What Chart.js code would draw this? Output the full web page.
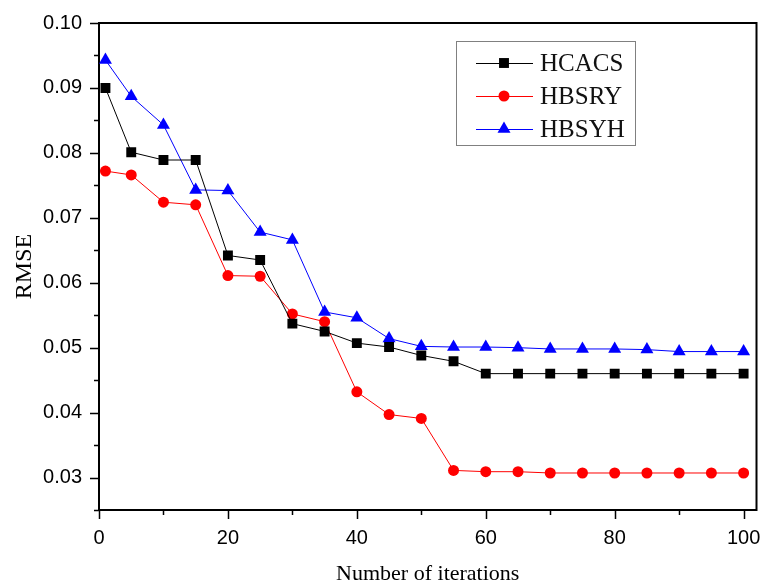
<!DOCTYPE html>
<html>
<head>
<meta charset="utf-8">
<title>RMSE vs number of iterations</title>
<script src="https://cdn.jsdelivr.net/npm/chart.js@4"></script>
<style>
    html, body { margin: 0; padding: 0; background: #fff; }
    #wrap { width: 764px; height: 585px; }
</style>
</head>
<body>
<div id="wrap"><canvas id="rmseChart" width="764" height="585"></canvas></div>
<script>
// values
const iterations = [1, 5, 10, 15, 20, 25, 30, 35, 40, 45, 50, 55, 60, 65, 70, 75, 80, 85, 90, 95, 100];
const hcacs = [0.0900, 0.0801, 0.0789, 0.0789, 0.0642, 0.0635, 0.0537, 0.0525, 0.0507, 0.0501, 0.0488,
    0.0479, 0.0460, 0.0460, 0.0460, 0.0460, 0.0460, 0.0460, 0.0460, 0.0460, 0.0460];
const hbsry = [0.0772, 0.0766, 0.0724, 0.0720, 0.0611, 0.0610, 0.0552, 0.0540, 0.0432, 0.0397, 0.0391,
    0.0311, 0.0309, 0.0309, 0.0307, 0.0307, 0.0307, 0.0307, 0.0307, 0.0307, 0.0307];
const hbsyh = [0.0943, 0.0887, 0.0843, 0.0743, 0.0742, 0.0678, 0.0666, 0.0555, 0.0546, 0.0514, 0.0502,
    0.0501, 0.0501, 0.0500, 0.0498, 0.0498, 0.0498, 0.0497, 0.0494, 0.0494, 0.0494];

const seriesNames = ["HCACS", "HBSRY", "HBSYH"];
const xTicks = [0, 20, 40, 60, 80, 100];
const xMinorTicks = [10, 30, 50, 70, 90];
const yTicks = [0.03, 0.04, 0.05, 0.06, 0.07, 0.08, 0.09, 0.10];
const yMinorTicks = [0.025, 0.035, 0.045, 0.055, 0.065, 0.075, 0.085, 0.095];

const sansFont = "'Liberation Sans', Arial, sans-serif";
const serifFont = "'Liberation Serif', 'Times New Roman', serif";

function toPoints(values) {
    return iterations.map((x, i) => ({ x, y: values[i] }));
}

// frame + outward major/minor tick marks
const framePlugin = {
    id: "frame",
    beforeDatasetsDraw(chart) {
        const { ctx, chartArea: a, scales } = chart;
        ctx.save();
        ctx.strokeStyle = "#000";
        ctx.lineWidth = 2;
        ctx.strokeRect(a.left, a.top, a.right - a.left, a.bottom - a.top);

        ctx.lineWidth = 1.5;
        ctx.beginPath();
        xTicks.forEach(v => {
            const px = Math.round(scales.x.getPixelForValue(v)) + 0.5;
            ctx.moveTo(px, a.bottom);
            ctx.lineTo(px, a.bottom + 9);
        });
        xMinorTicks.forEach(v => {
            const px = Math.round(scales.x.getPixelForValue(v)) + 0.5;
            ctx.moveTo(px, a.bottom);
            ctx.lineTo(px, a.bottom + 5);
        });
        yTicks.forEach(v => {
            const py = Math.round(scales.y.getPixelForValue(v)) + 0.5;
            ctx.moveTo(a.left, py);
            ctx.lineTo(a.left - 9, py);
        });
        yMinorTicks.forEach(v => {
            const py = Math.round(scales.y.getPixelForValue(v)) + 0.5;
            ctx.moveTo(a.left, py);
            ctx.lineTo(a.left - 5, py);
        });
        ctx.stroke();
        ctx.restore();
    }
};

// boxed legend with line + marker samples
const legendPlugin = {
    id: "boxLegend",
    afterDraw(chart) {
        const { ctx, chartArea: a } = chart;
        const left = a.left + 357;
        const top = a.top + 18;
        ctx.save();
        ctx.fillStyle = "#fff";
        ctx.fillRect(left, top, 179, 104);
        ctx.strokeStyle = "#808080";
        ctx.lineWidth = 1;
        ctx.strokeRect(left + 0.5, top + 0.5, 179, 104);

        chart.data.datasets.forEach((ds, i) => {
            const cy = top + 22 + i * 33;
            ctx.strokeStyle = ds.borderColor;
            ctx.lineWidth = 1;
            ctx.beginPath();
            ctx.moveTo(left + 20, cy + 0.5);
            ctx.lineTo(left + 77, cy + 0.5);
            ctx.stroke();

            ctx.fillStyle = ds.pointBackgroundColor;
            ctx.strokeStyle = ds.pointBackgroundColor;
            Chart.helpers.drawPoint(ctx, {
                pointStyle: ds.pointStyle,
                radius: ds.pointRadius,
                rotation: 0,
                borderWidth: 0
            }, left + 48, cy);

            ctx.fillStyle = "#111";
            ctx.font = "25px " + serifFont;
            ctx.textBaseline = "middle";
            ctx.textAlign = "left";
            ctx.fillText(ds.label, left + 84, cy + 1);
        });
        ctx.restore();
    }
};

const ctx = document.getElementById("rmseChart").getContext("2d");
new Chart(ctx, {
    type: "line",
    data: {
        datasets: [
            {
                label: seriesNames[0],
                data: toPoints(hcacs),
                borderColor: "#000000",
                borderWidth: 1,
                pointStyle: "rect",
                pointRadius: 7,
                pointBackgroundColor: "#000000",
                pointBorderWidth: 0
            },
            {
                label: seriesNames[1],
                data: toPoints(hbsry),
                borderColor: "#ff0000",
                borderWidth: 1,
                pointStyle: "circle",
                pointRadius: 5.5,
                pointBackgroundColor: "#ff0000",
                pointBorderWidth: 0
            },
            {
                label: seriesNames[2],
                data: toPoints(hbsyh),
                borderColor: "#0000ff",
                borderWidth: 1,
                pointStyle: "triangle",
                pointRadius: 7.5,
                pointBackgroundColor: "#0000ff",
                pointBorderWidth: 0
            }
        ]
    },
    options: {
        responsive: false,
        animation: false,
        devicePixelRatio: 1,
        layout: { padding: { top: 23, right: 7, left: 0, bottom: 0 } },
        plugins: {
            legend: { display: false },
            tooltip: { enabled: false }
        },
        scales: {
            x: {
                type: "linear",
                min: 0,
                max: 102,
                afterBuildTicks: scale => { scale.ticks = xTicks.map(v => ({ value: v })); },
                afterFit: scale => {
                    scale.height = 75;
                    scale.paddingLeft = 0;
                    scale.paddingRight = 0;
                },
                grid: { display: false, drawTicks: false },
                border: { display: false },
                ticks: {
                    color: "#000",
                    padding: 16,
                    maxRotation: 0,
                    font: { family: sansFont, size: 20 }
                },
                title: {
                    display: true,
                    text: "Number of iterations",
                    color: "#000",
                    padding: 0,
                    font: { family: serifFont, size: 22, lineHeight: 1 }
                }
            },
            y: {
                min: 0.025,
                max: 0.10,
                afterBuildTicks: scale => { scale.ticks = yTicks.map(v => ({ value: v })); },
                afterFit: scale => {
                    scale.width = 99;
                    scale.paddingTop = 0;
                    scale.paddingBottom = 0;
                },
                grid: { display: false, drawTicks: false },
                border: { display: false },
                ticks: {
                    color: "#000",
                    padding: 17,
                    font: { family: sansFont, size: 20 },
                    callback: v => v.toFixed(2)
                },
                title: {
                    display: true,
                    text: "RMSE",
                    color: "#000",
                    padding: { top: 10, bottom: 0 },
                    font: { family: serifFont, size: 24 }
                }
            }
        }
    },
    plugins: [framePlugin, legendPlugin]
});
</script>
</body>
</html>
